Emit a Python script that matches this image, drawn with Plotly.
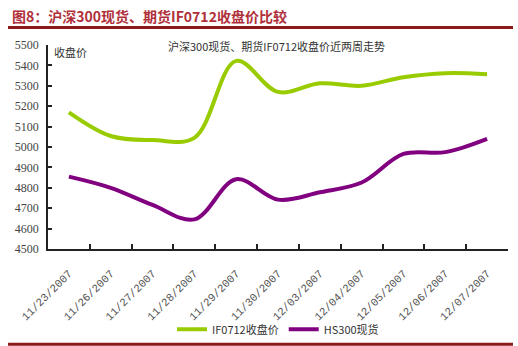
import plotly.graph_objects as go

dates = ["11/23/2007", "11/26/2007", "11/27/2007", "11/28/2007", "11/29/2007",
         "11/30/2007", "12/03/2007", "12/04/2007", "12/05/2007", "12/06/2007", "12/07/2007"]
if0712 = [5170, 5054, 5034, 5045, 5422, 5270, 5312, 5300, 5342, 5362, 5357]
hs300 = [4855, 4800, 4716, 4645, 4842, 4742, 4778, 4826, 4966, 4975, 5040]
yticks = [4500, 4600, 4700, 4800, 4900, 5000, 5100, 5200, 5300, 5400, 5500]

W, H = 518, 346
L, R, T, B = 48, 10, 44.5, 97
pw, ph = W - L - R, H - T - B


def px(x):
    return (x - L) / pw


def py(y):
    return (H - B - y) / ph


fig = go.Figure()
fig.add_trace(go.Scatter(x=dates, y=if0712, mode="lines", name="IF0712收盘价",
                         line=dict(color="#99CC00", width=4, shape="spline", smoothing=1.0)))
fig.add_trace(go.Scatter(x=dates, y=hs300, mode="lines", name="HS300现货",
                         line=dict(color="#800080", width=4, shape="spline", smoothing=1.0)))

cjk = "Noto Sans CJK SC"
fig.update_layout(
    width=W, height=H,
    margin=dict(l=L, r=R, t=T, b=B, autoexpand=False),
    paper_bgcolor="white", plot_bgcolor="white",
    showlegend=True,
    legend=dict(orientation="h", x=0.5, xanchor="center", y=py(315), yanchor="top",
                font=dict(family=cjk, size=11, color="#333"), bgcolor="rgba(0,0,0,0)",
                itemwidth=30, tracegroupgap=0),
    xaxis=dict(type="category", range=[-0.5, len(dates) - 0.5],
               showgrid=False, zeroline=False, showline=True,
               automargin=False,
               linecolor="#222", linewidth=1.5, ticks="inside", ticklen=5,
               tickcolor="#222", tickwidth=1.5, tickson="boundaries",
               tickangle=-45, ticklabelstandoff=12,
               tickfont=dict(family="Liberation Mono", size=11, color="#555")),
    yaxis=dict(range=[4500, 5500], tickvals=yticks, showgrid=False, zeroline=False,
               automargin=False,
               showline=True, linecolor="#222", linewidth=1.5, ticks="inside",
               ticklen=4, tickcolor="#222", tickwidth=1.5, ticklabelstandoff=5,
               tickfont=dict(family="Liberation Serif", size=12, color="#444")),
    annotations=[
        dict(text="<b>图8：沪深300现货、期货IF0712收盘价比较</b>", xref="paper", yref="paper",
             x=px(10), y=py(15), xanchor="left", yanchor="middle", showarrow=False,
             font=dict(family=cjk, size=14, color="#B0303A")),
        dict(text="沪深300现货、期货IF0712收盘价近两周走势", xref="paper", yref="paper",
             x=px(276), y=py(46), xanchor="center", yanchor="middle", showarrow=False,
             font=dict(family=cjk, size=11, color="#333")),
        dict(text="收盘价", xref="paper", yref="paper",
             x=px(52), y=py(52), xanchor="left", yanchor="middle", showarrow=False,
             font=dict(family=cjk, size=11, color="#333")),
    ],
    shapes=[
        dict(type="line", xref="paper", yref="paper", x0=px(8), x1=px(513),
             y0=py(27), y1=py(27), line=dict(color="#8B1A1A", width=3)),
        dict(type="line", xref="paper", yref="paper", x0=px(8), x1=px(513),
             y0=py(344.5), y1=py(344.5), line=dict(color="#8B1A1A", width=3)),
    ],
)

fig.write_html("out.html")
